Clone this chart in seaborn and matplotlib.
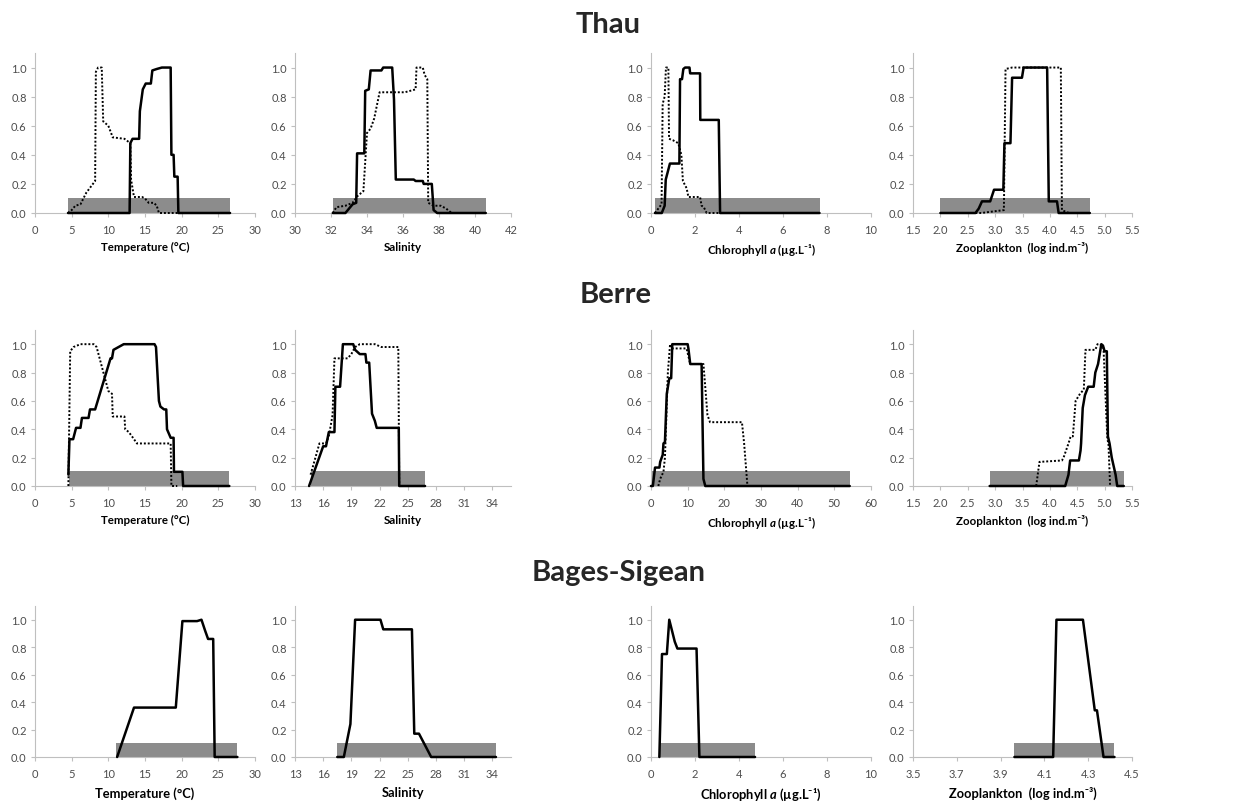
import matplotlib.pyplot as plt
import numpy as np
import seaborn as sns

# ---- Thau ----
thau_temp_range = [4.5, 26.6]
thau_temp_x = [4.5, 12.9, 13.0, 13.3, 14.2, 14.3, 14.7, 15.1, 15.8, 16.0, 16.6, 17.3, 18.5, 18.6, 18.9, 19.0, 19.45, 19.55, 26.6]
thau_temp_y = [0, 0, 0.48, 0.51, 0.51, 0.70, 0.85, 0.89, 0.89, 0.98, 0.99, 1.0, 1.0, 0.40, 0.40, 0.25, 0.25, 0, 0]
thau_temp_dx = [4.5, 5.0, 5.5, 6.2, 7.0, 7.6, 8.2, 8.3, 8.6, 9.1, 9.3, 10.0, 10.6, 12.2, 13.0, 13.1, 13.5, 14.6, 15.0, 15.5, 16.2, 16.6, 16.9, 19.6]
thau_temp_dy = [0, 0.02, 0.05, 0.06, 0.14, 0.18, 0.22, 0.97, 1.0, 1.0, 0.63, 0.60, 0.52, 0.51, 0.48, 0.23, 0.11, 0.11, 0.10, 0.07, 0.07, 0.05, 0.0, 0.0]

thau_sal_range = [32.1, 40.6]
thau_sal_x = [32.1, 32.8, 33.2, 33.4, 33.45, 33.85, 33.9, 34.1, 34.2, 34.8, 34.9, 35.4, 35.5, 35.6, 36.6, 36.7, 37.1, 37.15, 37.6, 37.7, 37.9, 40.6]
thau_sal_y = [0, 0, 0.06, 0.07, 0.41, 0.41, 0.84, 0.85, 0.98, 0.98, 1.0, 1.0, 0.78, 0.23, 0.23, 0.22, 0.22, 0.20, 0.20, 0.02, 0, 0]
thau_sal_dx = [32.1, 32.3, 32.8, 33.2, 33.5, 33.8, 34.0, 34.2, 34.4, 34.6, 34.7, 36.1, 36.7, 36.75, 37.1, 37.2, 37.35, 37.4, 37.7, 38.1, 38.4, 38.7]
thau_sal_dy = [0, 0.04, 0.05, 0.07, 0.12, 0.15, 0.55, 0.58, 0.65, 0.77, 0.83, 0.83, 0.85, 1.0, 1.0, 0.95, 0.92, 0.07, 0.05, 0.05, 0.03, 0.0]

thau_chl_range = [0.18, 7.66]
thau_chl_x = [0.18, 0.49, 0.62, 0.67, 0.74, 0.86, 1.29, 1.32, 1.41, 1.47, 1.55, 1.75, 1.78, 2.23, 2.24, 3.08, 3.14, 7.66]
thau_chl_y = [0, 0, 0.05, 0.23, 0.27, 0.34, 0.34, 0.92, 0.92, 0.99, 1.0, 1.0, 0.96, 0.96, 0.64, 0.64, 0, 0]
thau_chl_dx = [0.18, 0.33, 0.48, 0.53, 0.62, 0.68, 0.79, 0.82, 1.0, 1.24, 1.38, 1.45, 1.62, 1.70, 2.23, 2.30, 2.40, 2.53, 3.07]
thau_chl_dy = [0, 0.03, 0.06, 0.75, 0.80, 1.0, 1.0, 0.51, 0.50, 0.48, 0.40, 0.22, 0.17, 0.11, 0.11, 0.05, 0.04, 0.0, 0.0]

thau_zoo_range = [2.0, 4.73]
thau_zoo_x = [2.0, 2.64, 2.70, 2.76, 2.91, 2.98, 3.15, 3.17, 3.28, 3.31, 3.49, 3.52, 3.95, 3.98, 4.13, 4.16, 4.73]
thau_zoo_y = [0, 0, 0.03, 0.08, 0.08, 0.16, 0.16, 0.48, 0.48, 0.93, 0.93, 1.0, 1.0, 0.08, 0.08, 0, 0]
thau_zoo_dx = [2.0, 2.75, 2.95, 3.16, 3.19, 3.31, 4.20, 4.22, 4.28, 4.35]
thau_zoo_dy = [0, 0, 0.01, 0.02, 0.99, 1.0, 1.0, 0.02, 0.01, 0]

# ---- Berre ----
berre_temp_range = [4.57, 26.5]
berre_temp_x = [4.55, 4.7, 5.2, 5.6, 6.2, 6.4, 7.3, 7.5, 8.2, 10.3, 10.5, 10.7, 11.4, 12.1, 16.3, 16.5, 16.9, 17.1, 17.6, 17.9, 18.0, 18.5, 18.9, 18.95, 20.1, 20.2, 26.5]
berre_temp_y = [0.08, 0.33, 0.33, 0.41, 0.41, 0.48, 0.48, 0.54, 0.54, 0.90, 0.90, 0.96, 0.98, 1.0, 1.0, 0.98, 0.60, 0.56, 0.54, 0.54, 0.40, 0.34, 0.34, 0.10, 0.10, 0, 0]
berre_temp_dx = [4.55, 4.8, 5.25, 6.2, 8.0, 8.4, 10.0, 10.5, 10.6, 12.2, 12.3, 12.8, 13.5, 13.9, 18.5, 18.6, 19.4]
berre_temp_dy = [0, 0.95, 0.98, 1.0, 1.0, 0.98, 0.67, 0.65, 0.49, 0.49, 0.40, 0.38, 0.33, 0.30, 0.30, 0, 0]

berre_sal_range = [14.66, 26.85]
berre_sal_x = [14.5, 16.0, 16.3, 16.6, 17.2, 17.3, 17.8, 18.1, 19.2, 19.4, 19.9, 20.5, 20.6, 20.9, 21.2, 21.5, 21.7, 24.05, 24.1, 26.85]
berre_sal_y = [0, 0.28, 0.28, 0.38, 0.38, 0.70, 0.70, 1.0, 1.0, 0.96, 0.93, 0.93, 0.87, 0.87, 0.51, 0.46, 0.41, 0.41, 0, 0]
berre_sal_dx = [14.66, 15.6, 16.3, 16.6, 17.0, 17.2, 18.6, 19.0, 19.4, 19.9, 21.5, 22.2, 24.0, 24.1]
berre_sal_dy = [0.08, 0.30, 0.30, 0.35, 0.50, 0.90, 0.90, 0.93, 0.98, 1.0, 1.0, 0.98, 0.98, 0]

berre_chl_range = [0.0, 54.2]
berre_chl_x = [0, 0.5, 1.1, 2.3, 2.5, 3.2, 3.4, 3.8, 4.3, 5.0, 5.5, 5.8, 10.0, 10.2, 10.7, 13.8, 14.3, 14.8, 54.2]
berre_chl_y = [0, 0, 0.13, 0.13, 0.17, 0.22, 0.30, 0.31, 0.65, 0.76, 0.76, 1.0, 1.0, 0.97, 0.86, 0.86, 0.05, 0, 0]
berre_chl_dx = [2.0, 2.5, 3.4, 3.8, 4.6, 5.2, 5.6, 9.7, 10.7, 14.3, 15.4, 16.1, 24.8, 25.4, 26.3]
berre_chl_dy = [0, 0.05, 0.10, 0.20, 0.80, 1.0, 0.97, 0.97, 0.86, 0.86, 0.50, 0.45, 0.45, 0.30, 0]

berre_zoo_range = [2.9, 5.35]
berre_zoo_x = [2.9, 4.28, 4.34, 4.37, 4.53, 4.56, 4.57, 4.60, 4.64, 4.67, 4.70, 4.80, 4.83, 4.88, 4.91, 4.94, 4.97, 5.00, 5.04, 5.06, 5.09, 5.13, 5.20, 5.23, 5.35]
berre_zoo_y = [0, 0, 0.08, 0.18, 0.18, 0.25, 0.30, 0.55, 0.64, 0.67, 0.70, 0.70, 0.80, 0.86, 0.93, 1.0, 0.99, 0.95, 0.95, 0.35, 0.30, 0.20, 0.08, 0, 0]
berre_zoo_dx = [3.75, 3.81, 4.22, 4.25, 4.34, 4.38, 4.42, 4.47, 4.55, 4.62, 4.65, 4.83, 4.87, 4.92, 4.98, 5.05, 5.07, 5.10]
berre_zoo_dy = [0, 0.17, 0.18, 0.20, 0.30, 0.35, 0.35, 0.60, 0.65, 0.68, 0.96, 0.96, 1.0, 1.0, 0.97, 0.33, 0.30, 0]

# ---- Bages-Sigean ----
bages_temp_range = [11.1, 27.6]
bages_temp_x = [11.2, 13.5, 19.2, 20.1, 22.1, 22.7, 23.2, 23.6, 24.3, 24.5, 27.6]
bages_temp_y = [0, 0.36, 0.36, 0.99, 0.99, 1.0, 0.92, 0.86, 0.86, 0, 0]

bages_sal_range = [17.46, 34.4]
bages_sal_x = [17.5, 18.2, 18.9, 19.4, 22.1, 22.4, 25.45, 25.7, 26.2, 27.5, 34.4]
bages_sal_y = [0, 0, 0.24, 1.0, 1.0, 0.93, 0.93, 0.17, 0.17, 0, 0]

bages_chl_range = [0.38, 4.73]
bages_chl_x = [0.38, 0.5, 0.72, 0.83, 1.08, 1.2, 2.07, 2.2, 4.73]
bages_chl_y = [0, 0.75, 0.75, 1.0, 0.84, 0.79, 0.79, 0, 0]

bages_zoo_range = [3.963, 4.42]
bages_zoo_x = [3.963, 4.14, 4.155, 4.276, 4.33, 4.34, 4.37, 4.42]
bages_zoo_y = [0, 0, 1.0, 1.0, 0.34, 0.34, 0, 0]

# ---- axes ----
temp_ticks = [0, 5, 10, 15, 20, 25, 30]
sal_ticks_thau = [30, 32, 34, 36, 38, 40, 42]
sal_ticks = [13, 16, 19, 22, 25, 28, 31, 34]
chl_ticks_10 = [0, 2, 4, 6, 8, 10]
chl_ticks_60 = [0, 10, 20, 30, 40, 50, 60]
zoo_ticks = [1.5, 2.0, 2.5, 3.0, 3.5, 4.0, 4.5, 5.0, 5.5]
zoo_ticks_bages = [3.5, 3.7, 3.9, 4.1, 4.3, 4.5]
y_ticks = [0.0, 0.2, 0.4, 0.6, 0.8, 1.0]

lagoons = ['Thau', 'Berre', 'Bages-Sigean']
xlabels = ['Temperature (°C)', 'Salinity', 'Chlorophyll $\\mathit{a}$ (µg.L⁻¹)', 'Zooplankton  (log ind.m⁻³)']

sns.set_style('ticks')
plt.rcParams['font.family'] = ['Lato', 'DejaVu Sans']
plt.rcParams['mathtext.fontset'] = 'custom'
plt.rcParams['mathtext.it'] = 'Lato:italic:bold'
plt.rcParams['mathtext.rm'] = 'Lato:bold'

W, H = 1237, 803
fig = plt.figure(figsize=(W / 100, H / 100), dpi=100)

cols = [(35, 220), (295, 216), (651, 220), (913, 219)]
rows = [(214, 160), (487, 156), (758, 151)]
title_pos = [(608, 33), (616, 303), (619, 581)]

panels = [
    [(thau_temp_range, (thau_temp_x, thau_temp_y), (thau_temp_dx, thau_temp_dy), (0, 30), temp_ticks, '{:.0f}'),
     (thau_sal_range, (thau_sal_x, thau_sal_y), (thau_sal_dx, thau_sal_dy), (30, 42), sal_ticks_thau, '{:.0f}'),
     (thau_chl_range, (thau_chl_x, thau_chl_y), (thau_chl_dx, thau_chl_dy), (0, 10), chl_ticks_10, '{:.0f}'),
     (thau_zoo_range, (thau_zoo_x, thau_zoo_y), (thau_zoo_dx, thau_zoo_dy), (1.5, 5.5), zoo_ticks, '{:.1f}')],
    [(berre_temp_range, (berre_temp_x, berre_temp_y), (berre_temp_dx, berre_temp_dy), (0, 30), temp_ticks, '{:.0f}'),
     (berre_sal_range, (berre_sal_x, berre_sal_y), (berre_sal_dx, berre_sal_dy), (13, 36), sal_ticks, '{:.0f}'),
     (berre_chl_range, (berre_chl_x, berre_chl_y), (berre_chl_dx, berre_chl_dy), (0, 60), chl_ticks_60, '{:.0f}'),
     (berre_zoo_range, (berre_zoo_x, berre_zoo_y), (berre_zoo_dx, berre_zoo_dy), (1.5, 5.5), zoo_ticks, '{:.1f}')],
    [(bages_temp_range, (bages_temp_x, bages_temp_y), None, (0, 30), temp_ticks, '{:.0f}'),
     (bages_sal_range, (bages_sal_x, bages_sal_y), None, (13, 36), sal_ticks, '{:.0f}'),
     (bages_chl_range, (bages_chl_x, bages_chl_y), None, (0, 10), chl_ticks_10, '{:.0f}'),
     (bages_zoo_range, (bages_zoo_x, bages_zoo_y), None, (3.5, 4.5), zoo_ticks_bages, '{:.1f}')],
]

AX_GREY = '#bfbfbf'
for r, (y0, h) in enumerate(rows):
    tx, ty = title_pos[r]
    fig.text(tx / W, 1 - ty / H, lagoons[r], ha='center', va='baseline',
             fontsize=21, fontweight='bold')
    for c, (x0, w) in enumerate(cols):
        rng, solid, dotted, xlim, ticks, fmt = panels[r][c]
        ax = fig.add_axes([x0 / W, 1 - y0 / H, w / W, h / H])
        ax.fill_between(rng, 0, 0.105, color='#8c8c8c', lw=0, zorder=1)
        if dotted is not None:
            sns.lineplot(x=dotted[0], y=dotted[1], ax=ax, estimator=None, sort=False,
                         color='black', lw=1.4, linestyle=(0, (1, 1)), zorder=3, clip_on=False)
        sns.lineplot(x=solid[0], y=solid[1], ax=ax, estimator=None, sort=False,
                     color='black', lw=1.8, zorder=4, clip_on=False)
        ax.set_xlim(*xlim)
        ax.set_ylim(0, 1.1)
        ax.set_xticks(ticks)
        ax.set_xticklabels([fmt.format(t) for t in ticks])
        ax.set_yticks(y_ticks)
        ax.set_yticklabels(['{:.1f}'.format(t) for t in y_ticks])
        for s in ['top', 'right']:
            ax.spines[s].set_visible(False)
        for s in ['left', 'bottom']:
            ax.spines[s].set_color(AX_GREY)
            ax.spines[s].set_linewidth(0.8)
        ax.tick_params(axis='both', colors=AX_GREY, labelcolor='#4d4d4d',
                       labelsize=8, length=3, width=0.8, pad=3)
        ax.tick_params(axis='x', pad=5)
        ax.set_ylabel('')
        ax.set_xlabel(xlabels[c], fontsize=8.3 if r < 2 else 9.3, fontweight='bold',
                      color='black', labelpad=4.5 if r < 2 else 5)

fig.savefig('out.png', dpi=100)
